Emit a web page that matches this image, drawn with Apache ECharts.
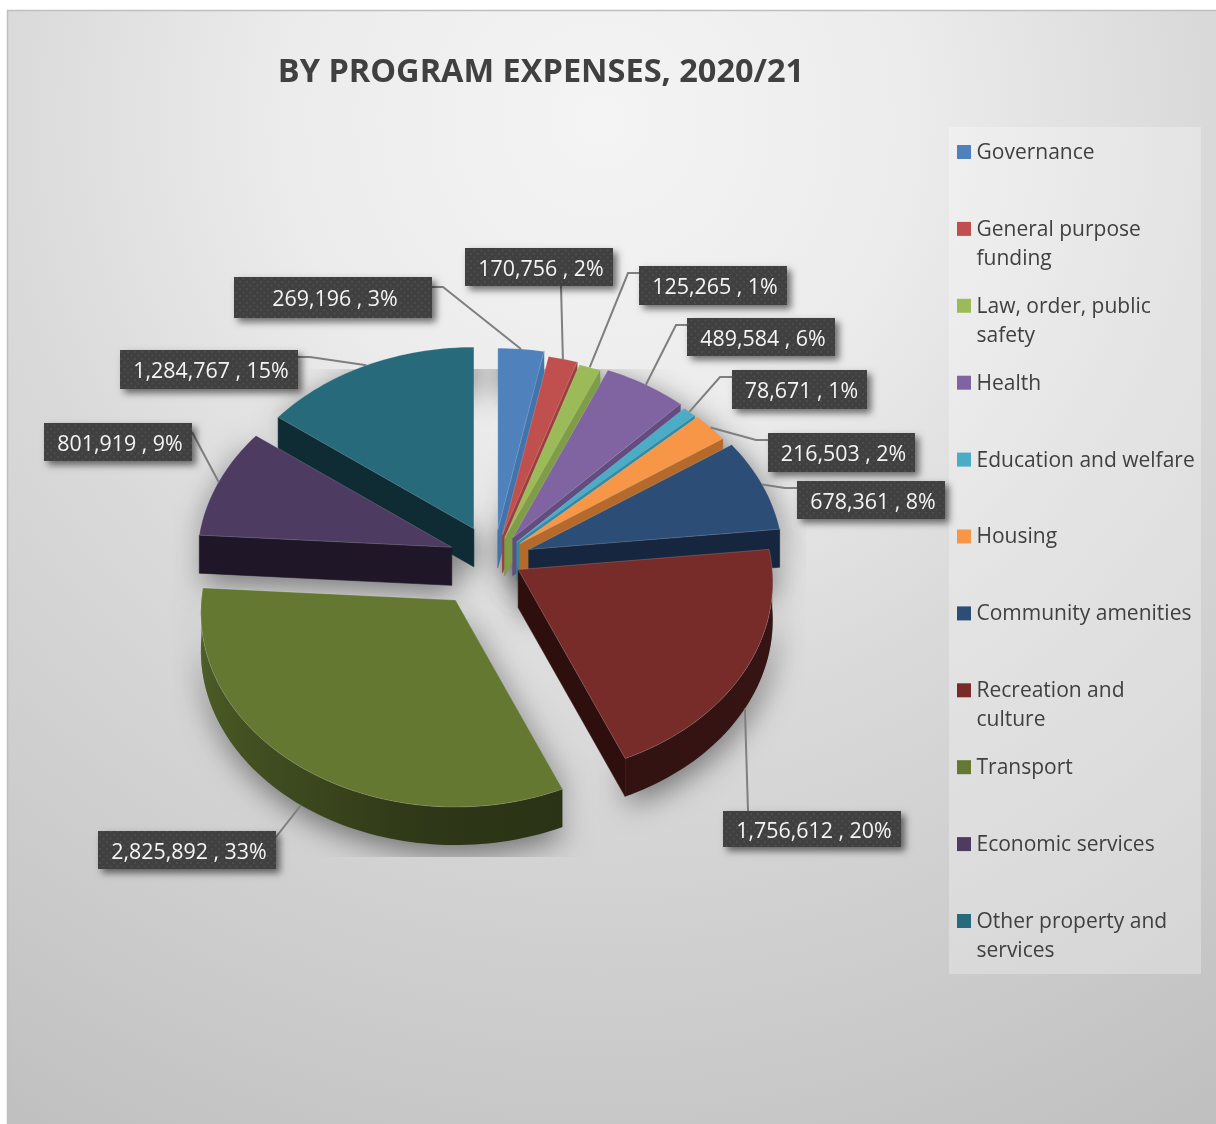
<!DOCTYPE html>
<html>
<head>
<meta charset="utf-8">
<style>html,body{margin:0;padding:0;background:#fff}#chart{width:1216px;height:1124px}</style>
<script src="https://cdn.jsdelivr.net/npm/echarts@6/dist/echarts.min.js"></script>
</head>
<body>
<div id="chart"></div>
<script>
// Program names, expense amounts and the rounded shares printed on the labels.
const programs = ['Governance','General purpose funding','Law, order, public safety','Health','Education and welfare','Housing','Community amenities','Recreation and culture','Transport','Economic services','Other property and services'];
const expenses = [269196,170756,125265,489584,78671,216503,678361,1756612,2825892,801919,1284767];
const shares = [3,2,1,6,1,2,8,20,33,9,15];

// Slice colours: top face, and the darker cut face.
const topColors = ['#4f81bd','#c0504d','#9bbb59','#8064a2','#4bacc6','#f79646','#2c4d75','#772c2a','#647832','#4d3b62','#276a7c'];
const cutColors = ['#4273aa','#9c3f3c','#7f9c47','#634d80','#338aa3','#b56a2c','#16263e','#2f0f0e','#2a3010','#1f1627','#0f2b33'];

// Pie geometry.
const centerX = 494, centerY = 559, flatten = 0.75;
const radiusX = 254, radiusY = 193.5, perspective = 0.065, depth = 38;
const explode = [39,33,30,34,32,33,37,28,67,45,45];

// Data label boxes: left, top, right, bottom; and the elbow of each leader.
const labelBoxes = [[234,277,432,318],[465,248,613,286],[639,266,787,305],[687,318,835,356],[732,370,867,409],[768,433,915,472],[797,481,945,519],[723,811,901,847],[98,831,276,869],[44,423,192,461],[120,350,298,389]];
const leaderStarts = [[443,287],[561,286],[628,273],[676,325],[720,377],[756,440],[785,488],[748,811],[276,837],[192,432],[310,357]];

// Wrapped legend names.
const legendLines = [['Governance'],['General purpose','funding'],['Law, order, public','safety'],['Health'],['Education and welfare'],['Housing'],['Community amenities'],['Recreation and','culture'],['Transport'],['Economic services'],['Other property and','services']];

const total = expenses.reduce((a, b) => a + b, 0);
const rad = d => d * Math.PI / 180;
const spans = [];
expenses.reduce((start, v) => {
  const end = start + v / total * 360;
  spans.push([start, end]);
  return end;
}, 0);

function apexOf(i) {
  const mid = rad((spans[i][0] + spans[i][1]) / 2);
  return [centerX + explode[i] * Math.sin(mid), centerY - explode[i] * flatten * Math.cos(mid)];
}
function rimPoint(i, deg) {
  const a = apexOf(i), t = rad(deg), w = 1 / (1 + perspective * Math.cos(t));
  return [a[0] + radiusX * w * Math.sin(t), a[1] - radiusY * w * Math.cos(t)];
}
const down = p => [p[0], p[1] + depth];
function arcPoints(i, from, to) {
  const n = Math.max(2, Math.ceil(Math.abs(to - from) / 1.5)), out = [];
  for (let k = 0; k <= n; k++) out.push(rimPoint(i, from + (to - from) * k / n));
  return out;
}
function topFace(i) { return [apexOf(i)].concat(arcPoints(i, spans[i][0], spans[i][1])); }
function silhouette(i) {
  const face = topFace(i);
  return face.concat(face.map(down).reverse());
}
function mix(hex, f) {
  const n = parseInt(hex.slice(1), 16);
  const c = [n >> 16, (n >> 8) & 255, n & 255].map(v => Math.round(v * f));
  return 'rgb(' + c.join(',') + ')';
}
// Brightness of the outer wall as it turns away from the light.
function wallShade(deg) {
  const stops = [[90,0.46],[130,0.44],[160,0.42],[185,0.46],[215,0.6],[270,0.82]];
  for (let k = 1; k < stops.length; k++) {
    if (deg <= stops[k][0]) {
      const r = (deg - stops[k-1][0]) / (stops[k][0] - stops[k-1][0]);
      return stops[k-1][1] + (stops[k][1] - stops[k-1][1]) * r;
    }
  }
  return stops[stops.length - 1][1];
}

// Back slices are painted first.
const paintOrder = programs.map((_, i) => i).sort((a, b) =>
  Math.cos(rad((spans[b][0] + spans[b][1]) / 2 )) - Math.cos(rad((spans[a][0] + spans[a][1]) / 2)) > 0 ? 1 : -1);

function polygon(points, fill, stroke) {
  return { type: 'polygon', shape: { points }, style: { fill, stroke: stroke || fill, lineWidth: stroke ? 1 : 0.6 }, silent: true };
}

// Soft cast shadow, cut off by the plot rectangle.
function renderShadow(params, api) {
  const i = api.value(0);
  return { type: 'polygon', silent: true, shape: { points: silhouette(i) },
    clipPath: { type: 'rect', shape: { x: 172, y: 369, width: 634, height: 488 } },
    style: { fill: '#8c8c8c', shadowBlur: 30, shadowOffsetX: 2, shadowOffsetY: 8, shadowColor: 'rgba(0,0,0,0.5)' } };
}

function renderSlice(params, api) {
  const i = api.value(0), [s, e] = spans[i], apex = apexOf(i), kids = [];
  const cut = deg => {
    const p = rimPoint(i, deg);
    return polygon([apex, p, down(p), down(apex)], cutColors[i]);
  };
  if (Math.sin(rad(s)) < 0) kids.push(cut(s));
  if (Math.sin(rad(e)) > 0) kids.push(cut(e));
  const from = Math.max(s, 90), to = Math.min(e, 270);
  if (to > from) {
    const rim = arcPoints(i, from, to);
    const x0 = rimPoint(i, to)[0], x1 = rimPoint(i, from)[0];
    const colorStops = [];
    for (let k = 0; k <= 12; k++) {
      const deg = to + (from - to) * k / 12;
      colorStops.push({ offset: Math.min(1, Math.max(0, (rimPoint(i, deg)[0] - x0) / (x1 - x0))), color: mix(topColors[i], wallShade(deg)) });
    }
    colorStops.sort((a, b) => a.offset - b.offset);
    kids.push({ type: 'polygon', silent: true, shape: { points: rim.concat(rim.map(down).reverse()) },
      style: { fill: { type: 'linear', x: x0, y: 0, x2: x1, y2: 0, global: true, colorStops } } });
  }
  kids.push(polygon(topFace(i), topColors[i], 'rgba(255,255,255,0.16)'));
  return { type: 'group', children: kids };
}

// Anchor of the leader: mid rim, dropped to the wall on the front half.
function leaderEnd(i) {
  const mid = (spans[i][0] + spans[i][1]) / 2, p = rimPoint(i, mid);
  return Math.cos(rad(mid)) < 0 ? down(p) : p;
}
function renderLeader(params, api) {
  const i = api.value(0), b = labelBoxes[i], st = leaderStarts[i], end = leaderEnd(i);
  let first;
  if (st[0] > b[2]) first = [b[2], st[1]];
  else if (st[0] < b[0]) first = [b[0], st[1]];
  else first = st;
  return { type: 'polyline', silent: true, shape: { points: [first, st, end] },
    style: { fill: null, stroke: '#7f7f7f', lineWidth: 2 } };
}

// Dark dotted tile behind the data labels.
function dotTile() {
  const c = document.createElement('canvas');
  c.width = 7; c.height = 7;
  const g = c.getContext('2d');
  g.fillStyle = '#404040'; g.fillRect(0, 0, 7, 7);
  g.fillStyle = '#4c4c4c';
  g.fillRect(1, 1, 2, 2); g.fillRect(4.5, 4.5, 2, 2);
  return c;
}
const tile = dotTile();
function renderLabel(params, api) {
  const i = api.value(0), b = labelBoxes[i];
  const text = expenses[i].toLocaleString('en-US') + ' , ' + shares[i] + '%';
  return { type: 'group', silent: true, children: [
    { type: 'rect', shape: { x: b[0], y: b[1], width: b[2] - b[0], height: b[3] - b[1] },
      style: { fill: '#404040', shadowBlur: 7, shadowOffsetX: 4, shadowOffsetY: 4, shadowColor: 'rgba(0,0,0,0.55)' } },
    { type: 'rect', shape: { x: b[0], y: b[1], width: b[2] - b[0], height: b[3] - b[1] },
      style: { fill: { image: tile, repeat: 'repeat' } } },
    { type: 'text', style: { x: (b[0] + b[2]) / 2 + 2, y: (b[1] + b[3]) / 2 + 2.5, text, align: 'center', verticalAlign: 'middle',
      fill: '#f4f4f4', font: '21.4px "Open Sans", sans-serif' } }
  ] };
}

// Legend panel with swatches and wrapped names.
const legendGraphics = [{ type: 'rect', z: 1, shape: { x: 949, y: 127, width: 252, height: 847 }, style: { fill: 'rgba(255,255,255,0.28)' }, silent: true }];
legendLines.forEach((lines, i) => {
  const y = 152 + i * 76.9;
  legendGraphics.push({ type: 'rect', z: 2, silent: true, shape: { x: 957, y: y - 7, width: 14, height: 14 }, style: { fill: topColors[i] } });
  lines.forEach((line, k) => legendGraphics.push({ type: 'text', z: 2, silent: true, x: 976.5, y: y + 1 + k * 29,
    style: { text: line, fill: '#404040', font: '21px "Open Sans", sans-serif', verticalAlign: 'middle' } }));
});

const chart = echarts.init(document.getElementById('chart'), null, { renderer: 'canvas' });
const orderedData = paintOrder.map(i => [i]);
const plainSeries = (renderItem, z) => ({ type: 'custom', coordinateSystem: 'none', silent: true, clip: false, z, renderItem, data: orderedData, animation: false });

chart.setOption({
  animation: false,
  backgroundColor: '#ffffff',
  title: {
    text: 'BY PROGRAM EXPENSES, 2020/21', left: 536, top: 51, textAlign: 'center', z: 10,
    textStyle: { fontFamily: '"Open Sans", sans-serif', fontWeight: 'bold', fontSize: 32.5, color: '#404040' }
  },
  graphic: [{ type: 'rect', z: 0, silent: true, shape: { x: 7.5, y: 10.5, width: 1240, height: 1140 },
    style: { stroke: '#bfbfbf', lineWidth: 1.5,
      fill: { type: 'radial', x: 600, y: 120, r: 1240, global: true, colorStops: [
        { offset: 0, color: '#f4f4f4' }, { offset: 0.25, color: '#ececec' }, { offset: 0.48, color: '#dadada' }, { offset: 0.75, color: '#cbcbcb' }, { offset: 1, color: '#bcbcbc' }] } } }]
    .concat(legendGraphics),
  series: [
    plainSeries(renderShadow, 3),
    plainSeries(renderSlice, 4),
    plainSeries(renderLeader, 5),
    plainSeries(renderLabel, 6)
  ]
});
</script>
</body>
</html>
